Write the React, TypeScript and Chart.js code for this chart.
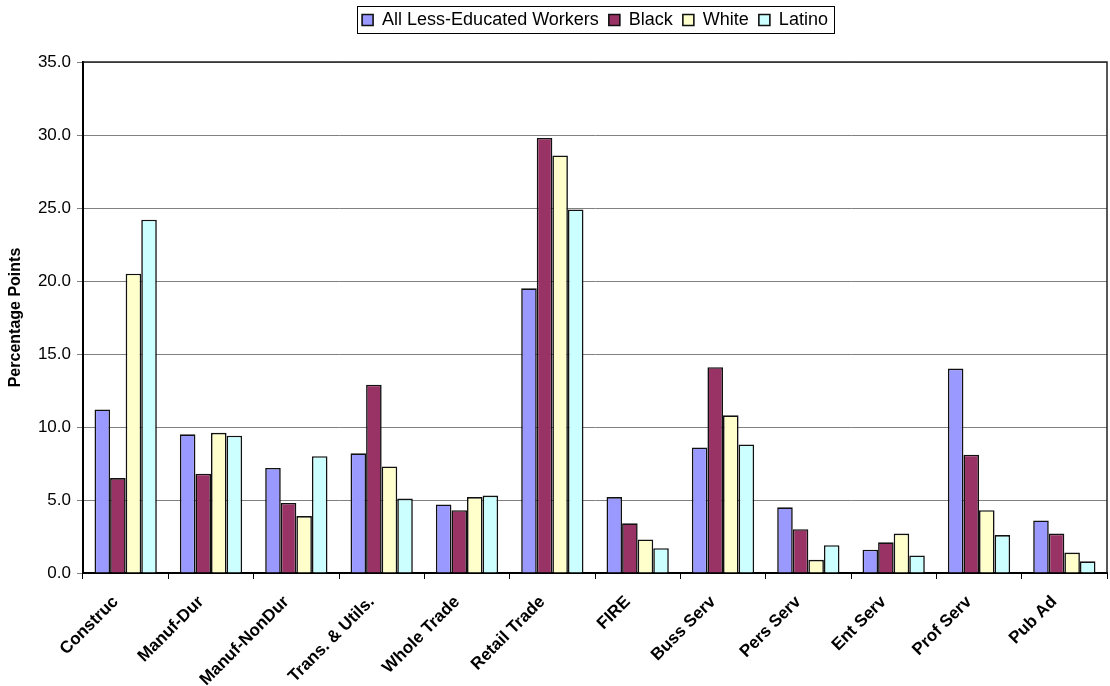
import React, { useEffect, useRef } from "react";
import { Chart, registerables } from "chart.js";

Chart.register(...registerables);

const categories = [
  "Construc",
  "Manuf-Dur",
  "Manuf-NonDur",
  "Trans. & Utils.",
  "Whole Trade",
  "Retail Trade",
  "FIRE",
  "Buss Serv",
  "Pers Serv",
  "Ent Serv",
  "Prof Serv",
  "Pub Ad",
];
const allWorkers = [11.2, 9.5, 7.2, 8.2, 4.7, 19.5, 5.2, 8.6, 4.5, 1.6, 14.0, 3.6];
const blackWorkers = [6.5, 6.8, 4.8, 12.9, 4.3, 29.8, 3.4, 14.1, 3.0, 2.1, 8.1, 2.7];
const whiteWorkers = [20.5, 9.6, 3.9, 7.3, 5.2, 28.6, 2.3, 10.8, 0.9, 2.7, 4.3, 1.4];
const latinoWorkers = [24.2, 9.4, 8.0, 5.1, 5.3, 24.9, 1.7, 8.8, 1.9, 1.2, 2.6, 0.8];
const seriesNames = ["All Less-Educated Workers", "Black", "White", "Latino"];
const yMin = 0;
const yMax = 35;
const yStep = 5;

const FONT = "'Liberation Sans', Arial, sans-serif";

const frameAndLegendBox = {
  id: "frameAndLegendBox",
  afterDraw(chart: any) {
    const ctx = chart.ctx;
    const a = chart.chartArea;
    ctx.save();
    ctx.strokeStyle = "#222";
    ctx.lineWidth = 1.5;
    ctx.beginPath();
    ctx.moveTo(a.left, a.top);
    ctx.lineTo(a.right, a.top);
    ctx.lineTo(a.right, a.bottom);
    ctx.stroke();
    const lg = chart.legend;
    if (lg && lg.legendHitBoxes && lg.legendHitBoxes.length) {
      let l = Infinity, t = Infinity, r = -Infinity, b = -Infinity;
      for (const h of lg.legendHitBoxes) {
        l = Math.min(l, h.left);
        t = Math.min(t, h.top);
        r = Math.max(r, h.left + h.width);
        b = Math.max(b, h.top + h.height);
      }
      ctx.strokeStyle = "#000";
      ctx.lineWidth = 1;
      ctx.strokeRect(Math.round(l - 5) + 0.5, Math.round(t - 5) + 0.5, Math.round(r - l + 11), Math.round(b - t + 9));
    }
    ctx.restore();
  },
};

export default function App() {
  const canvasRef = useRef<HTMLCanvasElement | null>(null);

  useEffect(() => {
    if (!canvasRef.current) return;
    const colors = ["#9999FF", "#993366", "#FFFFCC", "#CCFFFF"];
    const values = [allWorkers, blackWorkers, whiteWorkers, latinoWorkers];
    const chart = new Chart(canvasRef.current, {
      type: "bar",
      data: {
        labels: categories,
        datasets: values.map((v, i) => ({
          label: seriesNames[i],
          data: v,
          backgroundColor: colors[i],
          borderColor: "#111",
          borderWidth: 1.6,
          categoryPercentage: 0.73,
          barPercentage: 1.0,
        })),
      },
      options: {
        responsive: false,
        animation: false,
        maintainAspectRatio: false,
        layout: { padding: { top: 1, right: 3, bottom: 0, left: 0 } },
        plugins: {
          legend: {
            position: "top",
            fullSize: false,
            labels: {
              boxWidth: 11,
              boxHeight: 11,
              padding: 10,
              color: "#000",
              font: { family: FONT, size: 18 },
            },
          },
          subtitle: {
            display: true,
            text: "",
            weight: 500,
            font: { size: 10, lineHeight: 1 },
            padding: { top: 0, bottom: 13 },
          } as any,
          tooltip: { enabled: false },
        },
        scales: {
          x: {
            offset: true,
            grid: {
              offset: true,
              drawOnChartArea: false,
              drawTicks: true,
              tickLength: 6,
              color: "#000",
              lineWidth: 1,
            },
            border: { color: "#000", width: 2 },
            ticks: {
              color: "#000",
              font: { family: FONT, size: 17, weight: "bold" },
              minRotation: 45,
              maxRotation: 45,
              autoSkip: false,
              padding: 13,
              labelOffset: -10,
            },
            afterFit(scale: any) {
              scale.height = 113;
            },
          },
          y: {
            min: yMin,
            max: yMax,
            ticks: {
              stepSize: yStep,
              color: "#000",
              font: { family: FONT, size: 17 },
              padding: 6,
              callback: (v: any) => Number(v).toFixed(1),
            },
            grid: {
              color: "#808080",
              lineWidth: 1,
              tickLength: 6,
            },
            border: { color: "#000", width: 2 },
            title: {
              display: true,
              text: "Percentage Points",
              color: "#000",
              font: { family: FONT, size: 16, weight: "bold" },
              padding: { top: 6, bottom: 4 },
            },
            afterFit(scale: any) {
              scale.width = 83;
            },
          },
        },
      },
      plugins: [frameAndLegendBox],
    });
    return () => chart.destroy();
  }, []);

  return (
    <div style={{ position: "fixed", left: 0, top: 0, width: 1110, height: 686, overflow: "hidden", background: "#fff" }}>
      <canvas ref={canvasRef} width={1110} height={686} style={{ display: "block", width: 1110, height: 686 }} />
    </div>
  );
}
